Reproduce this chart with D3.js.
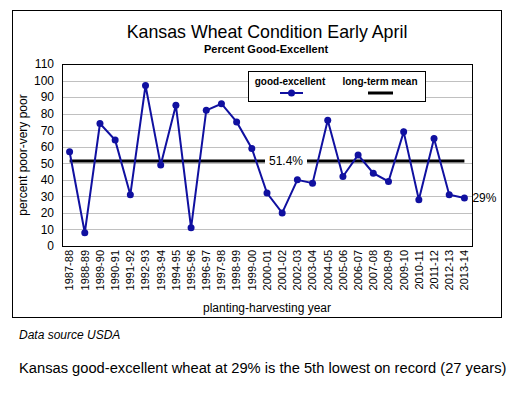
<!DOCTYPE html>
<html lang="en">
<head>
<meta charset="UTF-8">
<title>Kansas Wheat Condition Early April</title>
<style>
  body { margin: 0; padding: 0; background: #fff; }
  svg { display: block; font-family: Arial, "Liberation Sans", sans-serif; }
</style>
<script src="https://d3js.org/d3.v7.min.js"></script>
</head>
<body>
<div id="chart"></div>
<script>
// crop years and percent good-excellent
const years = ["1987-88", "1988-89", "1989-90", "1990-91", "1991-92", "1992-93", "1993-94",
  "1994-95", "1995-96", "1996-97", "1997-98", "1998-99", "1999-00", "2000-01", "2001-02",
  "2002-03", "2003-04", "2004-05", "2005-06", "2006-07", "2007-08", "2008-09", "2009-10",
  "2010-11", "2011-12", "2012-13", "2013-14"];
const goodExcellent = [57, 8, 74, 64, 31, 97, 49, 85, 11, 82, 86, 75, 59, 32, 20,
  40, 38, 76, 42, 55, 44, 39, 69, 28, 65, 31, 29];
const longTermMean = 51.4;
const yTicks = [0, 10, 20, 30, 40, 50, 60, 70, 80, 90, 100, 110];

const width = 517, height = 397;
const plot = { left: 62, top: 64, right: 472, bottom: 246 };

const svg = d3.select("#chart").append("svg")
  .attr("width", width)
  .attr("height", height);

// outer chart frame
svg.append("rect")
  .attr("x", 12.5).attr("y", 10.5)
  .attr("width", 489).attr("height", 307)
  .attr("fill", "#fff").attr("stroke", "#000").attr("stroke-width", 1);

const x = d3.scaleBand().domain(years).range([plot.left, plot.right]);
const y = d3.scaleLinear().domain([0, 110]).range([plot.bottom, plot.top]);
const cx = d => x(d) + x.bandwidth() / 2;

// gridlines
svg.append("g")
  .selectAll("line")
  .data(yTicks.filter(t => t > 0 && t < 110))
  .join("line")
  .attr("x1", plot.left).attr("x2", plot.right)
  .attr("y1", d => Math.round(y(d)) + 0.5).attr("y2", d => Math.round(y(d)) + 0.5)
  .attr("stroke", "#c0c0c0").attr("stroke-width", 1);

// plot border
svg.append("rect")
  .attr("x", plot.left + 0.5).attr("y", plot.top + 0.5)
  .attr("width", plot.right - plot.left).attr("height", plot.bottom - plot.top)
  .attr("fill", "none").attr("stroke", "#000");

// y axis labels
const yAxis = svg.append("g")
  .attr("transform", `translate(${plot.left},0)`)
  .call(d3.axisLeft(y).tickValues(yTicks).tickSize(0).tickPadding(8));
yAxis.select(".domain").remove();
yAxis.selectAll("text").attr("font-size", 12).attr("fill", "#000")
  .attr("font-family", "Arial, 'Liberation Sans', sans-serif");

// x axis labels
const xAxis = svg.append("g")
  .attr("transform", `translate(0,${plot.bottom})`)
  .call(d3.axisBottom(x).tickSize(0));
xAxis.select(".domain").remove();
xAxis.selectAll("text")
  .attr("font-size", 11).attr("fill", "#000")
  .attr("font-family", "Arial, 'Liberation Sans', sans-serif")
  .attr("transform", "rotate(-90)")
  .attr("text-anchor", "end")
  .attr("dy", "0.35em")
  .attr("x", -4).attr("y", 0);

// long-term mean line with label gap
const meanY = y(longTermMean);
const xFirst = cx(years[0]), xLast = cx(years[years.length - 1]);
svg.append("line")
  .attr("x1", xFirst).attr("x2", xLast)
  .attr("y1", meanY).attr("y2", meanY)
  .attr("stroke", "#000").attr("stroke-width", 3);
svg.append("rect")
  .attr("x", 265).attr("y", meanY - 8)
  .attr("width", 42).attr("height", 16)
  .attr("fill", "#fff");
svg.append("text")
  .attr("x", 286).attr("y", meanY).attr("dy", "0.36em")
  .attr("text-anchor", "middle").attr("font-size", 12)
  .text("51.4%");

// good-excellent series
const line = d3.line().x((d, i) => cx(years[i])).y(d => y(d));
svg.append("path")
  .datum(goodExcellent)
  .attr("d", line)
  .attr("fill", "none")
  .attr("stroke", "#1010a0").attr("stroke-width", 2);
svg.append("g")
  .selectAll("circle")
  .data(goodExcellent)
  .join("circle")
  .attr("cx", (d, i) => cx(years[i]))
  .attr("cy", d => y(d))
  .attr("r", 3.5)
  .attr("fill", "#1010a0");

svg.append("text")
  .attr("x", xLast + 8).attr("y", y(goodExcellent[goodExcellent.length - 1]))
  .attr("dy", "0.36em").attr("font-size", 12)
  .text(goodExcellent[goodExcellent.length - 1] + "%");

// legend
const legend = svg.append("g");
legend.append("rect")
  .attr("x", 248.5).attr("y", 71.5).attr("width", 177).attr("height", 30)
  .attr("fill", "#fff").attr("stroke", "#000");
legend.append("text")
  .attr("x", 290).attr("y", 85).attr("text-anchor", "middle")
  .attr("font-size", 10).attr("font-weight", "bold")
  .text("good-excellent");
legend.append("line")
  .attr("x1", 280).attr("x2", 303).attr("y1", 93).attr("y2", 93)
  .attr("stroke", "#1010a0").attr("stroke-width", 2);
legend.append("circle")
  .attr("cx", 291.5).attr("cy", 93).attr("r", 3.5).attr("fill", "#1010a0");
legend.append("text")
  .attr("x", 380).attr("y", 85).attr("text-anchor", "middle")
  .attr("font-size", 10).attr("font-weight", "bold")
  .text("long-term mean");
legend.append("line")
  .attr("x1", 368).attr("x2", 393).attr("y1", 93).attr("y2", 93)
  .attr("stroke", "#000").attr("stroke-width", 3);

// titles
svg.append("text")
  .attr("x", 267).attr("y", 38).attr("text-anchor", "middle")
  .attr("font-size", 17.8).attr("fill", "#000")
  .text("Kansas Wheat Condition Early April");
svg.append("text")
  .attr("x", 266).attr("y", 53).attr("text-anchor", "middle")
  .attr("font-size", 11).attr("font-weight", "bold")
  .text("Percent Good-Excellent");

svg.append("text")
  .attr("transform", `translate(27,${(plot.top + plot.bottom) / 2}) rotate(-90)`)
  .attr("text-anchor", "middle").attr("font-size", 12)
  .text("percent poor-very poor");

svg.append("text")
  .attr("x", 267).attr("y", 312).attr("text-anchor", "middle")
  .attr("font-size", 12)
  .text("planting-harvesting year");

// notes below chart
svg.append("text")
  .attr("x", 19).attr("y", 339)
  .attr("font-size", 12).attr("font-style", "italic")
  .text("Data source USDA");
svg.append("text")
  .attr("x", 19).attr("y", 373)
  .attr("font-size", 14.7)
  .text("Kansas good-excellent wheat at 29% is the 5th lowest on record (27 years)");
</script>
</body>
</html>
